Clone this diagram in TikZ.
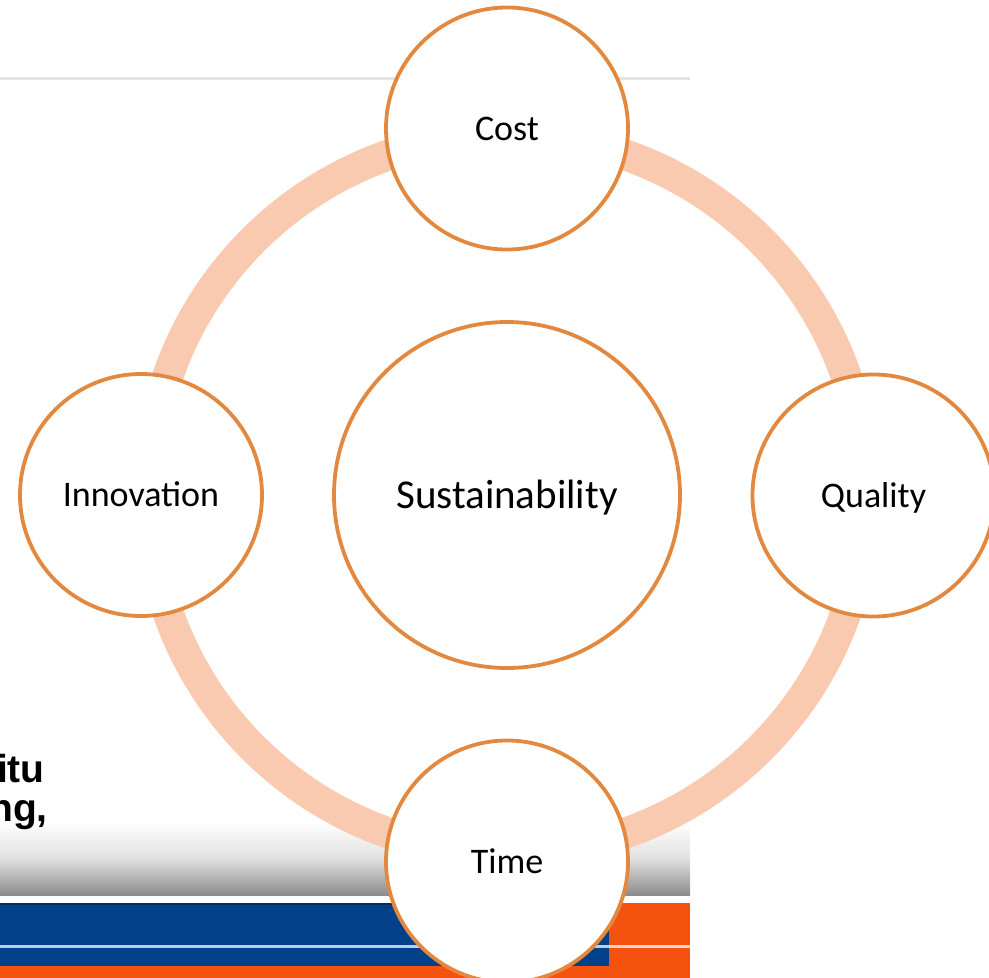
\documentclass[tikz,border=0pt]{standalone}
\usepackage{fontspec}
\setmainfont{Carlito}
\newfontfamily\slidefont{Liberation Sans}
\definecolor{ringc}{HTML}{F9CAB0}
\definecolor{edgec}{HTML}{E3893F}
\definecolor{slideblue}{HTML}{02418A}
\definecolor{slideorange}{HTML}{F5520F}
\definecolor{linegray}{HTML}{E4E4E4}
\tikzset{
  sat/.style={circle, draw=edgec, line width=3.8pt, fill=white, minimum size=242pt,
    inner sep=0pt, font=\fontsize{36}{43}\selectfont, text height=23pt, text depth=0pt},
  hub/.style={circle, draw=edgec, line width=3.8pt, fill=white, minimum size=346pt,
    inner sep=0pt, font=\fontsize{41}{49}\selectfont, text height=26pt, text depth=0pt},
  slidetext/.style={anchor=base east, inner sep=0pt, font=\slidefont\bfseries\fontsize{39}{39}\selectfont}
}
\begin{document}
\begin{tikzpicture}[x=1pt,y=-1pt]
\useasboundingbox (0,0) rectangle (989,978);
\clip (0,0) rectangle (989,978);
% slide background fragment
\draw[linegray, line width=3pt] (0,78) -- (690,78);
\shade[top color=white, bottom color=black!45, middle color=black!12] (0,822) rectangle (690,895);
\fill[slideblue] (0,903) rectangle (609,966);
\draw[slideblue!70!black, line width=1.5pt] (0,904) -- (609,904);
\fill[slideorange] (609,903) rectangle (690,978);
\fill[slideorange] (0,966) rectangle (690,978);
\draw[white, opacity=0.75, line width=2.5pt] (0,946.5) -- (690,946.5);
\node[slidetext] (t1) at (45,782) {itu};
\node[slidetext] (t2) at (48,821) {ng,};
% ring
\coordinate (ctr) at (507,494);
\draw[ringc, line width=31pt] (ctr) circle (359pt);
% circles
\node[hub] (sus) at (507,495) {Sustainability};
\node[sat] (cost) at (507,128.5) {Cost};
\node[sat] (qual) at (873.5,495.5) {Quality};
\node[sat] (time) at (507,861.5) {Time};
\node[sat] (inno) at (141,495) {Innovation};
\end{tikzpicture}
\end{document}
